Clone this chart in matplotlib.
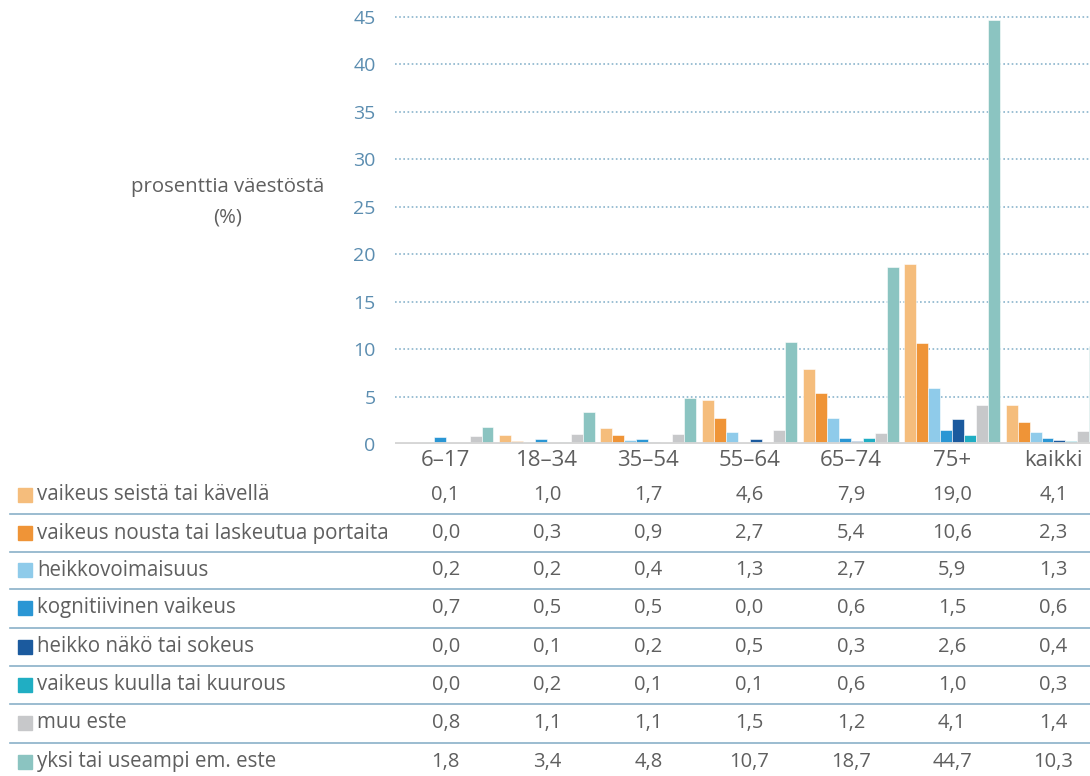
import matplotlib.pyplot as plt
import numpy as np
from matplotlib.transforms import blended_transform_factory

plt.rcParams['font.family'] = ['Open Sans', 'DejaVu Sans']

# Data
groups = ["6–17", "18–34", "35–54", "55–64", "65–74", "75+", "kaikki"]
series_names = [
    "vaikeus seistä tai kävellä",
    "vaikeus nousta tai laskeutua portaita",
    "heikkovoimaisuus",
    "kognitiivinen vaikeus",
    "heikko näkö tai sokeus",
    "vaikeus kuulla tai kuurous",
    "muu este",
    "yksi tai useampi em. este",
]
seista = [0.1, 1.0, 1.7, 4.6, 7.9, 19.0, 4.1]
portaat = [0.0, 0.3, 0.9, 2.7, 5.4, 10.6, 2.3]
heikkovoima = [0.2, 0.2, 0.4, 1.3, 2.7, 5.9, 1.3]
kognitiivinen = [0.7, 0.5, 0.5, 0.0, 0.6, 1.5, 0.6]
nako = [0.0, 0.1, 0.2, 0.5, 0.3, 2.6, 0.4]
kuulo = [0.0, 0.2, 0.1, 0.1, 0.6, 1.0, 0.3]
muu = [0.8, 1.1, 1.1, 1.5, 1.2, 4.1, 1.4]
yksi_tai_useampi = [1.8, 3.4, 4.8, 10.7, 18.7, 44.7, 10.3]
all_series = [seista, portaat, heikkovoima, kognitiivinen, nako, kuulo, muu, yksi_tai_useampi]

colors = ["#f5bd7c", "#ef9437", "#8fcbea", "#2a96d4", "#1b5a9e", "#20aec3", "#c7c8ca", "#8bc4c1"]
txt = "#5f5f5f"

W, H = 1090, 776
fig = plt.figure(figsize=(W / 100, H / 100), dpi=100)
ax = fig.add_axes([395 / W, 1 - 444 / H, 1 - 395 / W, 436.5 / H])

x = np.arange(len(groups))
bw = 0.118
for i, (vals, c) in enumerate(zip(all_series, colors)):
    ax.bar(x + (i - 3.5) * bw, vals, width=bw, color=c, edgecolor="white", linewidth=0.4, zorder=3)

ax.set_xlim(-0.5, (1090 - 445.7) / 101.3)
ax.set_ylim(0, 46)
ax.set_yticks(range(0, 50, 5))
ax.tick_params(axis="y", length=0, pad=14, labelsize=14, labelcolor="#5b8db0")
ax.set_xticks([])
for s in ax.spines.values():
    s.set_visible(False)
for yv in range(5, 50, 5):
    ax.axhline(yv, color="#8ab4cc", linestyle=(0, (1, 1.5)), linewidth=1.2, zorder=1)
ax.axhline(0, color="#d6d6d6", linewidth=3.5, zorder=4)

fig.text(228 / W, 1 - 202 / H, "prosenttia väestöstä\n(%)", ha="center", va="center",
         fontsize=14.7, color=txt, linespacing=1.7)

# category labels and table
tr = blended_transform_factory(ax.transData, fig.transFigure)
for xi, g in zip(x, groups):
    fig.text(xi, 1 - 461 / H, g, transform=tr, ha="center", va="center", fontsize=16, color=txt)

row_y = [495, 533, 570, 608, 647, 685, 723, 762]
for r, (name, vals, c) in enumerate(zip(series_names, all_series, colors)):
    yf = 1 - row_y[r] / H
    fig.patches.append(plt.Rectangle((18 / W, yf - 7 / H), 14 / W, 14 / H,
                                     transform=fig.transFigure, color=c, figure=fig))
    fig.text(37 / W, yf, name, ha="left", va="center", fontsize=14.8, color=txt)
    for xi, v in zip(x, vals):
        fig.text(xi, yf, f"{v:.1f}".replace(".", ","), transform=tr, ha="center", va="center",
                 fontsize=14.5, color=txt)
    if r < len(series_names) - 1:
        ly = 1 - (row_y[r] + row_y[r + 1]) / 2 / H
        fig.add_artist(plt.Line2D([10 / W, 1], [ly, ly], transform=fig.transFigure,
                                  color="#8ab0c8", linewidth=1.2))

plt.savefig("out.png", dpi=100)
